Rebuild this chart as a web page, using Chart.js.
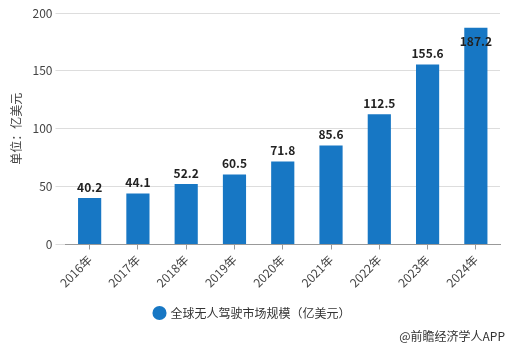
<!DOCTYPE html>
<html>
<head>
<meta charset="utf-8">
<script src="https://cdn.jsdelivr.net/npm/chart.js@4/dist/chart.umd.min.js"></script>
<style>
  html, body { margin: 0; padding: 0; background: #fff; }
  #wrap { position: relative; width: 511px; height: 346px; }
  #credit {
    position: absolute; right: 6px; top: 327px;
    font: 12px "Noto Sans CJK SC", sans-serif; color: #333;
  }
</style>
</head>
<body>
<div id="wrap">
  <canvas id="myChart" width="511" height="346"></canvas>
  <div id="credit">@前瞻经济学人APP</div>
</div>
<script>
/* 数据 */
var years = ['2016年', '2017年', '2018年', '2019年', '2020年', '2021年', '2022年', '2023年', '2024年'];
var marketSize = [40.2, 44.1, 52.2, 60.5, 71.8, 85.6, 112.5, 155.6, 187.2];
var yTicks = [0, 50, 100, 150, 200];
var seriesName = '全球无人驾驶市场规模（亿美元）';
var unitLabel = '单位：亿美元';

var fontFamily = '"Noto Sans CJK SC", "Microsoft YaHei", sans-serif';

/* 柱顶数值 */
var valueLabels = {
    id: 'valueLabels',
    afterDatasetsDraw: function(chart) {
        var ctx = chart.ctx;
        var meta = chart.getDatasetMeta(0);
        ctx.save();
        ctx.font = 'bold 12px ' + fontFamily;
        ctx.fillStyle = '#222';
        ctx.textAlign = 'center';
        ctx.textBaseline = 'middle';
        meta.data.forEach(function(bar, i) {
            var y = bar.y - 11;
            if (y < chart.chartArea.top + 20) y = bar.y + 14;
            ctx.fillText(marketSize[i].toFixed(1), bar.x, y);
        });
        ctx.restore();
    }
};

var config = {
    type: 'bar',
    data: {
        labels: years,
        datasets: [{
            label: seriesName,
            data: marketSize,
            backgroundColor: '#1777c4',
            barPercentage: 0.48,
            categoryPercentage: 1
        }]
    },
    options: {
        responsive: false,
        animation: false,
        layout: { padding: { top: 13, right: 11, left: 5, bottom: 17 } },
        plugins: {
            legend: {
                position: 'bottom',
                labels: {
                    usePointStyle: true,
                    pointStyle: 'circle',
                    boxWidth: 10,
                    boxHeight: 10,
                    padding: 14,
                    color: '#333',
                    font: { size: 12, family: fontFamily }
                }
            },
            tooltip: { enabled: false }
        },
        scales: {
            x: {
                grid: { offset: false, drawOnChartArea: false, tickLength: 5, color: '#999' },
                border: { color: '#999' },
                ticks: {
                    minRotation: 45, maxRotation: 45,
                    color: '#444',
                    font: { size: 12, family: fontFamily }
                }
            },
            y: {
                min: 0, max: 200,
                afterBuildTicks: function(scale) {
                    scale.ticks = yTicks.map(function(v) { return { value: v }; });
                },
                afterFit: function(scale) { scale.width = 60.5; },
                grid: { color: '#ddd', tickLength: 10 },
                border: { display: false },
                ticks: {
                    padding: 3,
                    color: '#444',
                    font: { size: 12, family: fontFamily }
                },
                title: {
                    display: true,
                    text: unitLabel,
                    color: '#444',
                    padding: { bottom: 2 },
                    font: { size: 12, family: fontFamily }
                }
            }
        }
    },
    plugins: [valueLabels]
};

var myChart = new Chart(document.getElementById('myChart'), config);
</script>
</body>
</html>
